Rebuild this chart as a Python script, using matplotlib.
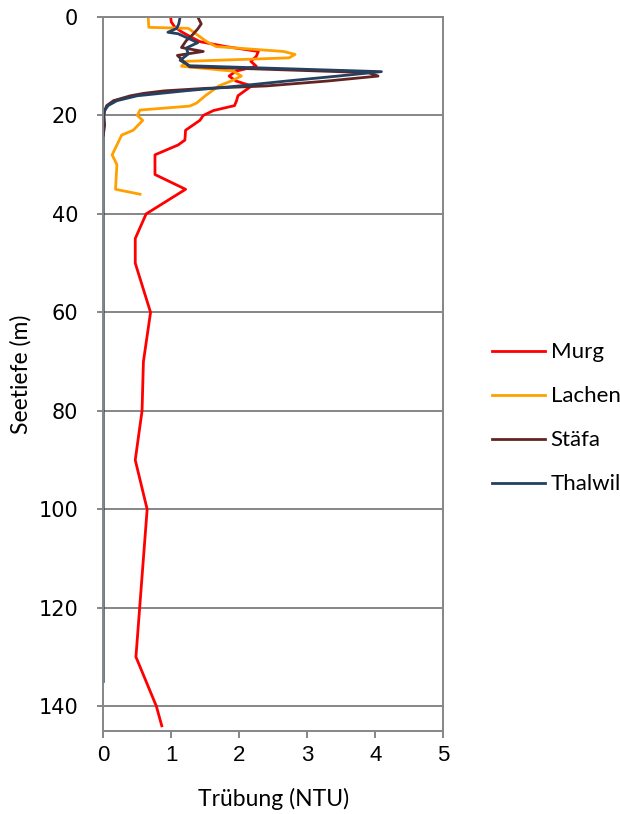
import matplotlib.pyplot as plt

# Trübungsprofile (NTU) über die Seetiefe (m)
murg_depth = [0, 1, 2, 3, 4, 5, 6, 7, 8, 9, 10, 11, 12, 13, 14, 15, 16, 17, 18, 19, 20,
              21, 23, 25, 26, 28, 32, 35, 40, 45, 50, 60, 70, 80, 90, 100, 130, 140, 144]
murg_ntu = [0.99, 1.0, 1.05, 1.15, 1.28, 1.42, 1.8, 2.28, 2.25, 2.17, 2.25, 1.95, 1.85, 1.95,
            2.18, 2.08, 1.98, 1.96, 1.93, 1.62, 1.47, 1.42, 1.21, 1.2, 1.1, 0.76, 0.76, 1.21,
            0.63, 0.47, 0.47, 0.695, 0.59, 0.57, 0.47, 0.645, 0.48, 0.78, 0.86]

lachen_depth = [0, 2.1, 2.3, 3.5, 5, 6, 7, 7.6, 8.3, 9, 10, 11, 12, 13, 14, 15, 16, 17.5,
                18.1, 18.9, 20, 21, 23, 24, 28, 30, 35, 36]
lachen_ntu = [0.66, 0.67, 1.25, 1.37, 1.52, 1.66, 2.65, 2.82, 2.73, 1.22, 1.15, 1.91, 2.03,
              1.88, 1.7, 1.6, 1.5, 1.37, 1.27, 0.54, 0.5, 0.58, 0.44, 0.27, 0.13, 0.2, 0.18, 0.54]

staefa_depth = [0, 1.4, 2.4, 3.5, 4.8, 6.2, 7, 7.8, 9, 10.1, 11.3, 12, 13, 14, 14.5, 15,
                15.5, 16, 17, 18, 19, 20, 22, 24]
staefa_ntu = [1.39, 1.44, 1.39, 1.32, 1.22, 1.15, 1.47, 1.09, 1.18, 1.27, 3.9, 4.04, 3.3, 2.4,
              1.5, 0.9, 0.6, 0.4, 0.15, 0.05, 0.02, 0.01, 0.02, 0.0]

thalwil_depth = [0, 1.4, 2.3, 3.1, 3.4, 5.2, 6.3, 7.5, 8.8, 9.9, 11.1, 12, 13, 14, 15, 16,
                 17, 18, 19, 20, 135]
thalwil_ntu = [1.13, 1.11, 1.08, 0.95, 1.1, 1.39, 1.22, 1.25, 1.13, 1.27, 4.09, 3.45, 2.7,
               2.0, 1.2, 0.5, 0.2, 0.07, 0.02, 0.0, 0.0]

x_ticks = [0, 1, 2, 3, 4, 5]
y_ticks = [0, 20, 40, 60, 80, 100, 120, 140]

grey = '#868686'

fig = plt.figure(figsize=(6.2, 8.14), dpi=100)
ax = fig.add_axes([0.1666, 0.1023, 0.5484, 0.8768])

ax.plot(murg_ntu, murg_depth, color='#ff0000', lw=2.0, label='Murg')
ax.plot(lachen_ntu, lachen_depth, color='#ffa000', lw=2.0, label='Lachen')
ax.plot(staefa_ntu, staefa_depth, color='#632523', lw=2.0, label='Stäfa')
ax.plot(thalwil_ntu, thalwil_depth, color='#254061', lw=2.0, label='Thalwil')

ax.set_xlim(0, 5)
ax.set_ylim(145, 0)
ax.set_xticks(x_ticks)
ax.set_yticks(y_ticks)
ax.grid(axis='y', color=grey, lw=1.4)
ax.set_axisbelow(True)
for s in ax.spines.values():
    s.set_color(grey)
    s.set_linewidth(1.4)
ax.tick_params(axis='x', length=5, width=1.4, color=grey, pad=5,
               labelsize=16, labelfontfamily='Liberation Sans')
ax.tick_params(axis='y', length=4, width=1.4, color=grey, pad=14,
               labelsize=15, labelfontfamily='DejaVu Sans')

ax.set_xlabel('Trübung (NTU)', family='Lato', fontsize=16.5, labelpad=16)
ax.set_ylabel('Seetiefe (m)', family='Lato', fontsize=16.5, labelpad=5)

fig.legend(loc='center left', bbox_to_anchor=(0.762, 0.486), frameon=False,
           prop={'family': 'Lato', 'size': 16}, handlelength=2.35,
           handletextpad=0.27, labelspacing=1.08)

fig.savefig('out.png', dpi=100)
